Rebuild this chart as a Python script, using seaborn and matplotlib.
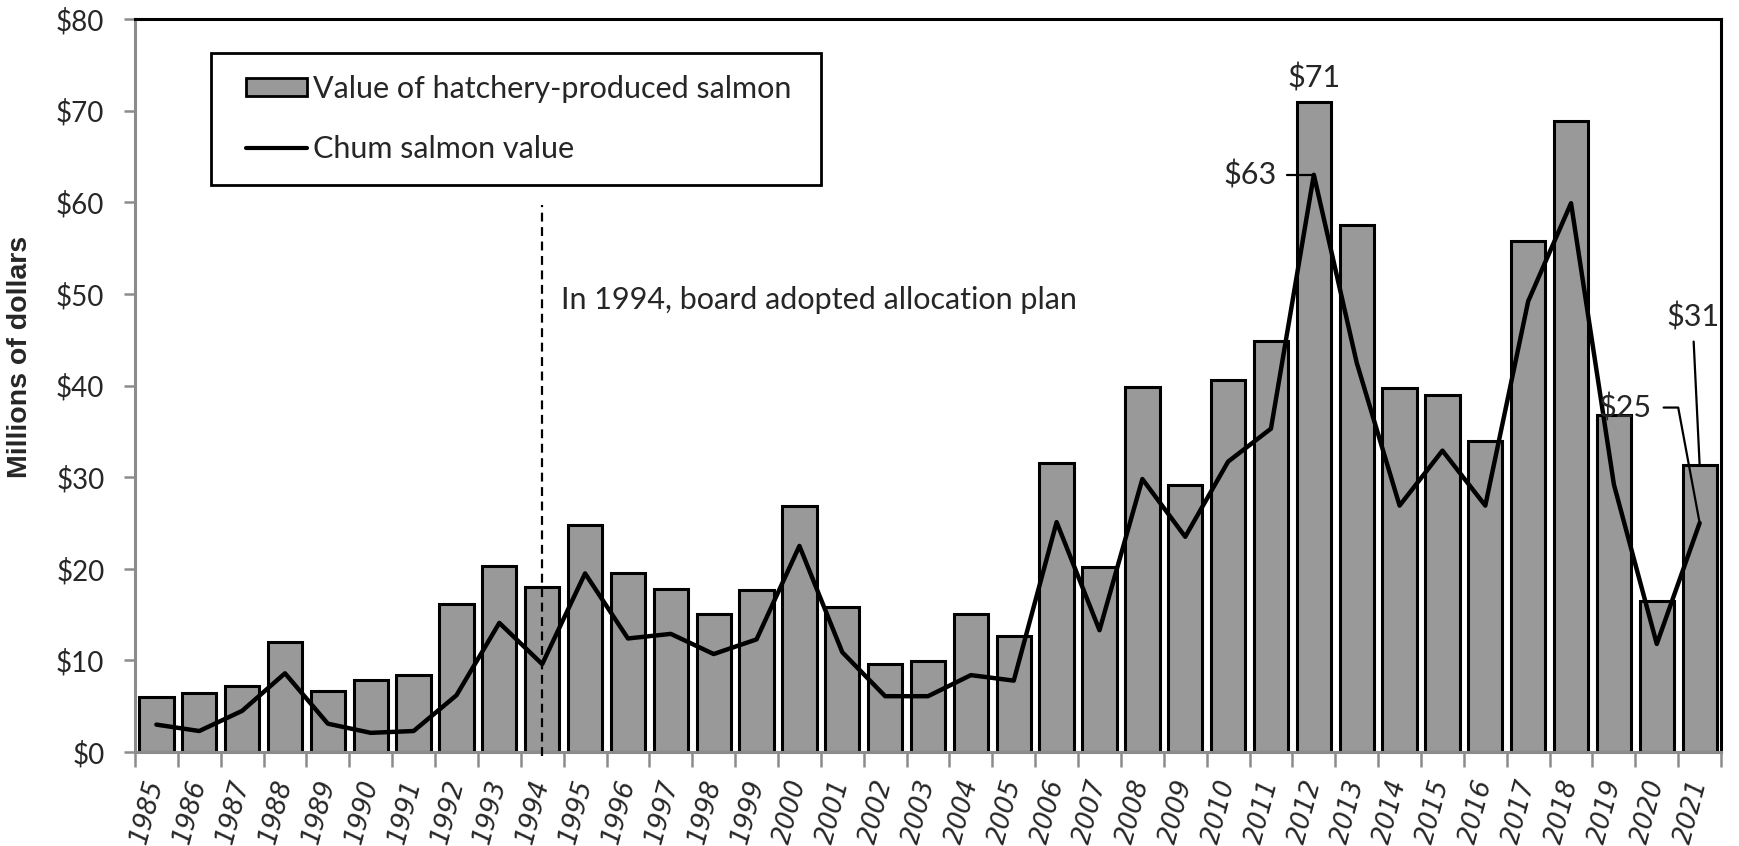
import numpy as np
import pandas as pd
import matplotlib
matplotlib.use("Agg")
import matplotlib.pyplot as plt
import matplotlib.transforms as mtransforms
import seaborn as sns
from matplotlib.patches import Patch, Rectangle
from matplotlib.lines import Line2D
from matplotlib.ticker import FixedLocator, FuncFormatter

# values in millions of dollars
years = list(range(1985, 2022))
hatchery_value = [6.0, 6.4, 7.2, 12.0, 6.7, 7.9, 8.4, 16.2, 20.3, 18.0,
                  24.8, 19.5, 17.8, 15.1, 17.7, 26.9, 15.8, 9.6, 9.9, 15.1,
                  12.7, 31.6, 20.2, 39.8, 29.2, 40.6, 44.9, 71.0, 57.5, 39.7,
                  39.0, 34.0, 55.8, 68.9, 36.8, 16.5, 31.3]
chum_value = [3.0, 2.3, 4.5, 8.6, 3.1, 2.1, 2.3, 6.2, 14.1, 9.6,
              19.5, 12.4, 12.9, 10.7, 12.3, 22.5, 10.9, 6.1, 6.1, 8.4,
              7.8, 25.1, 13.3, 29.8, 23.5, 31.7, 35.3, 63.0, 42.5, 26.9,
              32.9, 26.9, 49.2, 59.9, 29.2, 11.8, 25.0]
plan_year = 1994
plan_text = "In 1994, board adopted allocation plan"
bar_label = "Value of hatchery-produced salmon"
line_label = "Chum salmon value"

df = pd.DataFrame({"year": [str(y) for y in years],
                   "hatchery": hatchery_value,
                   "chum": chum_value})
df["pos"] = np.arange(len(df))

sns.set_style("white")
plt.rcParams["font.family"] = ["Lato", "DejaVu Sans"]

BAR_GREY = "#999999"
AXIS_GREY = "#8c8c8c"
FS = 22

fig = plt.figure(figsize=(17.39, 8.46), dpi=100)
ax = fig.add_axes([0.0776, 0.111, 0.9121, 0.8665])

sns.barplot(data=df, x="year", y="hatchery", color=BAR_GREY, saturation=1,
            edgecolor="black", linewidth=2.2, width=0.8, ax=ax, zorder=2)
sns.lineplot(data=df, x="pos", y="chum", color="black", linewidth=3.2,
             ax=ax, zorder=3)

ax.set_xlim(-0.5, len(df) - 0.5)
ax.set_ylim(0, 80)

# y axis
ax.yaxis.set_major_locator(FixedLocator(np.arange(0, 81, 10)))
ax.yaxis.set_major_formatter(FuncFormatter(lambda v, p: f"${v:.0f}"))
ax.tick_params(axis="y", left=True, length=8, width=1.8, color=AXIS_GREY,
               labelsize=20, pad=14)
ax.set_ylabel("Millions of dollars", fontsize=20.5, fontweight="bold",
              family="Liberation Sans")
ax.yaxis.set_label_coords(-0.0643, 0.539)

# x axis: labels at the bar centres, tick marks between bars
ax.set_xticks(df["pos"])
ax.set_xticklabels(df["year"], rotation=75, ha="right", va="center",
                   rotation_mode="anchor", family="DejaVu Sans",
                   style="italic", fontsize=18.5)
shift = mtransforms.ScaledTranslation(6 / 100, 0, fig.dpi_scale_trans)
for lab in ax.get_xticklabels():
    lab.set_transform(lab.get_transform() + shift)
ax.set_xticks(np.arange(-0.5, len(df), 1), minor=True)
ax.tick_params(axis="x", which="major", length=0, pad=20)
ax.tick_params(axis="x", which="minor", bottom=True, length=11, width=1.8,
               color=AXIS_GREY)
ax.set_xlabel("")

for side in ["top", "right"]:
    ax.spines[side].set_color("black")
    ax.spines[side].set_linewidth(2.2)
for side in ["left", "bottom"]:
    ax.spines[side].set_color(AXIS_GREY)
    ax.spines[side].set_linewidth(2.2)
ax.spines["bottom"].set_zorder(4)

# allocation plan marker
plan_pos = years.index(plan_year)
ax.plot([plan_pos, plan_pos], [-0.4, 59.7], color="black", linestyle=(0, (4, 2.5)),
        linewidth=1.6, clip_on=False, zorder=5)
ax.text(plan_pos + 0.45, 49.3, plan_text, fontsize=FS, va="center", ha="left")

# annotations
i12 = years.index(2012)
ax.text(i12, 73.6, f"${hatchery_value[i12]:.0f}", ha="center", va="center",
        fontsize=FS)
ax.text(i12 - 0.86, chum_value[i12], f"${chum_value[i12]:.0f}",
        ha="right", va="center", fontsize=FS)
ax.plot([i12 - 0.63, i12], [chum_value[i12], chum_value[i12]], color="black",
        linewidth=1.6, zorder=4)

i21 = years.index(2021)
ax.text(i21 - 1.12, 37.6, f"${chum_value[i21]:.0f}", ha="right", va="center",
        fontsize=FS, zorder=6)
ax.plot([i21 - 0.84, i21 - 0.5, i21], [37.6, 37.6, chum_value[i21]],
        color="black", linewidth=1.6, zorder=4)
ax.text(i21 - 0.16, 47.5, f"${hatchery_value[i21]:.0f}", ha="center",
        va="center", fontsize=FS)
ax.plot([i21 - 0.14, i21], [44.8, hatchery_value[i21]], color="black",
        linewidth=1.6, zorder=4)

# legend: frame drawn separately so the inner padding can match
ax.add_patch(Rectangle((0.0479, 0.7735), 0.3846, 0.1801, transform=ax.transAxes,
                       facecolor="white", edgecolor="black", linewidth=2,
                       zorder=6, clip_on=False))
handles = [Patch(facecolor=BAR_GREY, edgecolor="black", linewidth=2),
           Line2D([0], [0], color="black", linewidth=3)]
leg = ax.legend(handles, [bar_label, line_label], loc="center left",
                bbox_to_anchor=(0.070, 0.8636), frameon=False, fontsize=FS,
                borderpad=0, labelspacing=1.05, handlelength=2.0,
                handleheight=0.55, handletextpad=0.2, borderaxespad=0)
leg.set_zorder(7)

fig.savefig("out.png", dpi=100)
